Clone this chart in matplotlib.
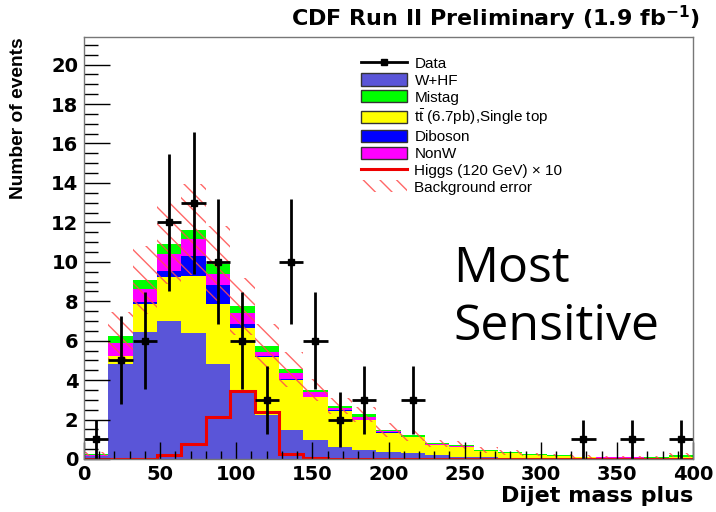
import numpy as np
import matplotlib
matplotlib.use("Agg")
import matplotlib.pyplot as plt
from matplotlib.patches import Patch
from matplotlib.lines import Line2D

plt.rcParams['font.family'] = ['Liberation Sans', 'DejaVu Sans']
plt.rcParams['mathtext.fontset'] = 'custom'
plt.rcParams['mathtext.rm'] = 'DejaVu Sans'
plt.rcParams['mathtext.bf'] = 'DejaVu Sans:bold'
plt.rcParams['hatch.linewidth'] = 1.0

# ---- data (dijet mass bins, 16 GeV wide, 0-400) ----
bin_edges = list(range(0, 401, 16))
whf     = [0.15,4.84,6.45,7.0,6.4,4.84,3.45,2.25,1.47,0.96,0.62,0.46,0.37,0.29,0.2,0.12,0.08,0.06,0.04,0.03,0.02,0.02,0.02,0.02,0.03]
ttbar   = [0.02,0.36,1.43,2.23,2.87,3.04,3.17,2.9,2.56,2.16,1.83,1.51,0.96,0.81,0.52,0.5,0.33,0.23,0.14,0.1,0.06,0.03,0.04,0.03,0.07]
diboson = [0.0,0.02,0.07,0.31,1.01,0.93,0.22,0.05,0.05,0.04,0.03,0.03,0.02,0.01,0.01,0.01,0.0,0.0,0.0,0.0,0.0,0.0,0.0,0.0,0.0]
nonw    = [0.02,0.64,0.69,0.87,0.89,0.59,0.57,0.23,0.27,0.22,0.12,0.15,0.05,0.03,0.03,0.03,0.02,0.02,0.02,0.02,0.02,0.03,0.02,0.02,0.02]
mistag  = [0.06,0.37,0.42,0.51,0.46,0.5,0.34,0.29,0.19,0.11,0.08,0.11,0.07,0.06,0.04,0.05,0.03,0.03,0.04,0.04,0.02,0.01,0.01,0.01,0.08]
higgs_x10 = [0,0,0,0.18,0.76,2.14,3.46,2.4,0.25,0.05,0.02,0,0,0,0,0,0,0,0,0,0,0,0,0,0]
bkg_err = [0.1,1.23,1.72,2.05,2.3,1.9,1.45,1.15,0.88,0.55,0.42,0.4,0.37,0.27,0.18,0.18,0.14,0.12,0.08,0.08,0.06,0.05,0.05,0.05,0.08]
data    = [1,5,6,12,13,10,6,3,10,6,2,3,0,3,0,0,0,0,0,0,1,0,1,0,1]

x_ticks = [0, 50, 100, 150, 200, 250, 300, 350, 400]
y_ticks = [0, 2, 4, 6, 8, 10, 12, 14, 16, 18, 20]

c_whf, c_mis, c_tt, c_dib, c_nonw = '#5a55d8', '#00ff00', '#ffff00', '#0000ff', '#ff00ff'
hatch_col = (1, 0.3, 0.3, 0.85)
bold_wide = ['DejaVu Sans']

W, H = 716, 512
fig = plt.figure(figsize=(W/100, H/100), dpi=100)
ax = fig.add_axes([84/W, 1-459/H, (693-84)/W, (459-37)/H])

edges = np.array(bin_edges, dtype=float)
bottom = np.zeros(len(whf))
for vals, col in [(whf, c_whf), (ttbar, c_tt), (diboson, c_dib), (nonw, c_nonw), (mistag, c_mis)]:
    top = bottom + np.array(vals)
    ax.stairs(top, edges, baseline=bottom, fill=True, color=col, lw=0)
    bottom = top
total = bottom

err = np.array(bkg_err)
ax.bar(edges[:-1], 2*err, bottom=total-err, width=16, align='edge', fill=False,
       hatch='\\\\', edgecolor=hatch_col, linewidth=0)

ax.stairs(higgs_x10, edges, baseline=0, color='#ee0000', lw=2.2)

d = np.array(data, dtype=float)
centers = 0.5*(edges[:-1]+edges[1:])
m = d > 0
ax.errorbar(centers[m], d[m], xerr=8, yerr=np.sqrt(d[m]), fmt='s', ms=4, color='black',
            elinewidth=2, capsize=0)

ax.set_xlim(0, 400)
ax.set_ylim(0, 21.4)
ax.set_xticks(x_ticks)
ax.set_yticks(y_ticks)
ax.set_xticks(np.arange(0, 401, 10), minor=True)
ax.set_yticks(np.arange(0, 21.4, 0.5), minor=True)
ax.tick_params(axis='both', which='both', direction='in', labelsize=14)
ax.tick_params(axis='y', which='major', length=19, width=1, pad=4)
ax.tick_params(axis='y', which='minor', length=10, width=1)
ax.tick_params(axis='x', which='major', length=12, width=1, pad=4)
ax.tick_params(axis='x', which='minor', length=6, width=1)
for lab in ax.get_xticklabels() + ax.get_yticklabels():
    lab.set_fontweight('bold')
    lab.set_family(bold_wide)
for s in ax.spines.values():
    s.set_color('#777777')
    s.set_linewidth(1)

ax.set_xlabel('Dijet mass plus', fontsize=16, fontweight='bold', family=bold_wide, loc='right')
ax.xaxis.set_label_coords(1.0, -(486-459)/422)
ax.set_ylabel('Number of events', fontsize=13.8, fontweight='bold', loc='top')
ax.yaxis.set_label_coords((27-84)/609, 1.0)

fig.text(700/W, 1-18/H, r'CDF Run II Preliminary (1.9 fb$^{\mathbf{-1}}$)',
         ha='right', va='center', fontsize=16, fontweight='bold', family=bold_wide)

fig.text(453/W, 1-282/H, 'Most', fontsize=36, family=['Open Sans', 'DejaVu Sans'],
         ha='left', va='baseline')
fig.text(453/W, 1-340/H, 'Sensitive', fontsize=36, family=['Open Sans', 'DejaVu Sans'],
         ha='left', va='baseline')

handles = [
    Line2D([], [], color='black', marker='s', ms=4, lw=2),
    Patch(facecolor=c_whf, edgecolor='#333333'),
    Patch(facecolor=c_mis, edgecolor='#333333'),
    Patch(facecolor=c_tt, edgecolor='#333333'),
    Patch(facecolor=c_dib, edgecolor='#333333'),
    Patch(facecolor=c_nonw, edgecolor='#333333'),
    Line2D([], [], color='#ee0000', lw=2.2),
    Patch(facecolor='none', edgecolor=hatch_col, hatch='\\\\', lw=0),
]
labels = ['Data', 'W+HF', 'Mistag', r'$\mathregular{t\bar{t}}$ (6.7pb),Single top', 'Diboson', 'NonW',
          'Higgs (120 GeV) \u00d7 10', 'Background error']
ax.legend(handles, labels, loc='upper left', bbox_to_anchor=(361/W, 1-56.5/H),
          bbox_transform=fig.transFigure, frameon=False, fontsize=11,
          handlelength=3.0, handleheight=0.85, labelspacing=0.165, handletextpad=0.5,
          borderpad=0, borderaxespad=0)

fig.savefig('out.png', dpi=100)
